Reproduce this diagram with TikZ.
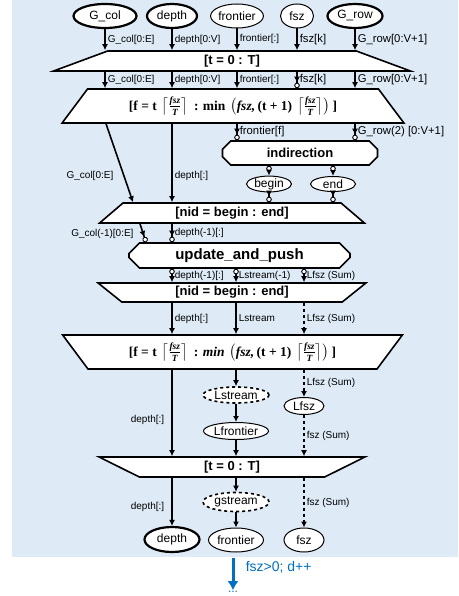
\documentclass[tikz,border=0pt]{standalone}
\usepackage{amsmath}
\usepackage[no-math]{fontspec}
\setmainfont{Liberation Sans}
\newfontfamily\formfont{Liberation Serif}
\usetikzlibrary{positioning}
\usetikzlibrary{calc}
\usetikzlibrary{shapes.misc}
\usetikzlibrary{shapes.geometric}
\usetikzlibrary{arrows.meta}
\usepackage{color}
\definecolor{backblue}{RGB}{222,235,247}
\definecolor{nextblue}{RGB}{0,112,192}
\newcommand{\fbi}[1]{\text{\formfont\bfseries\itshape #1}}
\newcommand{\fbu}[1]{\text{\formfont\bfseries #1}}
\newcommand{\fszT}{\left\lceil\frac{\fbi{fsz}}{\fbi{T}}\right\rceil}
\newcommand{\tilerange}[1]{{\fontsize{13.5}{15}\selectfont$\fbu{[f = t}\,\fszT\fbu{ : #1\,}\left(\fbi{fsz,}\,\fbu{(t + 1)}\,\fszT\right)\fbu{]}$}}
\tikzset{
    common/.style={draw, fill=white, line width=1.6pt, inner sep=0pt},
    databox/.style={common, ellipse, line width=1pt, minimum height=24pt, font=\fontsize{12}{14}\selectfont},
    bigdatabox/.style={databox, line width=2.2pt},
    streambox/.style={databox, dashed, line width=1.6pt},
    loopbox/.style={common, trapezium, trapezium left angle=45, trapezium right angle=45,
        trapezium stretches=true, minimum height=20pt, font=\fontsize{13}{15}\selectfont\bfseries},
    endloopbox/.style={loopbox, shape border rotate=180},
    kernelbox/.style={common, chamfered rectangle, chamfered rectangle xsep=7pt, font=\fontsize{13}{15}\selectfont\bfseries},
    flow/.style={-{Latex[length=6pt,width=6pt]}, line width=1.6pt},
    inport/.style={-{Latex[length=6pt,width=6pt] Circle[fill=white, length=5.5pt, line width=0.9pt]}, line width=1.6pt},
    outport/.style={{Circle[fill=white, length=5.5pt, line width=0.9pt]}-{Latex[length=6pt,width=6pt]}, line width=1.6pt},
    info/.style={font=\fontsize{10}{12}\selectfont, inner sep=2pt},
    rowinfo/.style={info, font=\fontsize{11.3}{13}\selectfont},
}

\begin{document}
\begin{tikzpicture}[x=1pt, y=-1pt]
    \useasboundingbox (0,0) rectangle (458,596);
    \fill[backblue] (12,0) rectangle (458,557);

    % inputs
    \node[bigdatabox, minimum width=63pt] (G-col-in) at (105,16) {G\_col};
    \node[bigdatabox, minimum width=50pt] (depth-in) at (172,16) {depth};
    \node[databox, minimum width=48pt] (frontier-in) at (237,16) {frontier};
    \node[databox, minimum width=33pt] (fsz-in) at (297,16) {fsz};
    \node[bigdatabox, minimum width=55pt] (G-row-in) at (355,16) {G\_row};

    % loops and kernels
    \node[loopbox, minimum width=357pt] (t-loop-A) at (232,61) {[t = 0 : T]};
    \node[loopbox, minimum width=342pt, minimum height=34pt] (f-loop-A) at (233,106) {\tilerange{min}};
    \node[kernelbox, minimum width=155pt, minimum height=24pt] (indirection) at (300,153) {indirection};
    \node[databox, minimum width=45pt, minimum height=15pt] (begin) at (269,184) {begin};
    \node[databox, minimum width=45pt, minimum height=15pt] (end) at (333,184) {end};
    \node[loopbox, minimum width=265pt] (nid-loop-A) at (232,213) {[nid = begin : end]};
    \node[kernelbox, minimum width=221pt, minimum height=25pt, font=\fontsize{15}{17}\selectfont\bfseries] (update) at (239.5,255.5) {update\_and\_push};
    \node[endloopbox, minimum width=268pt, minimum height=19pt] (nid-loop-B) at (232,292.5) {[nid = begin : end]};
    \node[endloopbox, minimum width=341pt, minimum height=34pt] (f-loop-B) at (232.5,352) {\tilerange{\itshape min}};
    \node[streambox, minimum width=66pt, minimum height=16pt] (Lstream) at (236,395) {Lstream};
    \node[databox, minimum width=65pt, minimum height=17pt] (Lfrontier) at (236,431) {Lfrontier};
    \node[databox, minimum width=40pt, minimum height=17pt] (Lfsz) at (304,406) {Lfsz};
    \node[endloopbox, minimum width=266pt] (t-loop-B) at (232,467) {[t = 0 : T]};
    \node[streambox, minimum width=66pt, minimum height=19pt] (gstream) at (236,502) {gstream};

    % outputs
    \node[bigdatabox, minimum width=55pt, minimum height=25pt] (depth-out) at (172,539.5) {depth};
    \node[databox, minimum width=55pt] (frontier-out) at (236,540) {frontier};
    \node[databox, minimum width=40pt] (fsz-out) at (304,540) {fsz};

    \draw[flow] (G-col-in) -- (G-col-in |- t-loop-A.north) node[info, midway, right] {G\_col[0:E]};
    \draw[flow] (depth-in) -- (depth-in |- t-loop-A.north) node[info, midway, right] {depth[0:V]};
    \draw[flow] (frontier-in) -- (frontier-in |- t-loop-A.north) node[info, midway, right] {frontier[:]};
    \draw[flow] (fsz-in) -- (fsz-in |- t-loop-A.north) node[rowinfo, midway, right] {fsz[k]};
    \draw[flow] (G-row-in) -- (G-row-in |- t-loop-A.north) node[rowinfo, midway, right] {G\_row[0:V+1]};

    \draw[flow] (G-col-in |- t-loop-A.south) -- (G-col-in |- f-loop-A.north) node[info, midway, right] {G\_col[0:E]};
    \draw[flow] (depth-in |- t-loop-A.south) -- (depth-in |- f-loop-A.north) node[info, midway, right] {depth[0:V]};
    \draw[flow] (frontier-in |- t-loop-A.south) -- (frontier-in |- f-loop-A.north) node[info, midway, right] {frontier[:]};
    \draw[inport] (fsz-in |- t-loop-A.south) -- (fsz-in |- f-loop-A.north) node[rowinfo, midway, right] {fsz[k]};
    \draw[flow] (G-row-in |- t-loop-A.south) -- (G-row-in |- f-loop-A.north) node[rowinfo, midway, right] {G\_row[0:V+1]};

    \draw[flow] ([xshift=-127pt]f-loop-A.south) -- ([xshift=-99pt]nid-loop-A.north) node[info, pos=0.67, left=8pt] {G\_col[0:E]};
    \draw[flow] (depth-in |- f-loop-A.south) -- (depth-in |- nid-loop-A.north) node[info, pos=0.67, right] {depth[:]};
    \draw[inport] (frontier-in |- f-loop-A.south) -- (frontier-in |- indirection.north) node[rowinfo, midway, right] {frontier[f]};
    \draw[inport] (G-row-in |- f-loop-A.south) -- (G-row-in |- indirection.north) node[rowinfo, midway, right] {G\_row(2) [0:V+1]};
    \draw[outport] (begin |- indirection.south) -- (begin);
    \draw[outport] (end |- indirection.south) -- (end);
    \draw[inport] (begin) -- (begin |- nid-loop-A.north);
    \draw[inport] (end) -- (end |- nid-loop-A.north);

    \draw[inport] ([xshift=-92pt]nid-loop-A.south) -- ([xshift=-93.5pt]update.north) node[info, pos=0.55, left=7pt] {G\_col(-1)[0:E]};
    \draw[inport] (depth-in |- nid-loop-A.south) -- (depth-in |- update.north) node[info, midway, right] {depth(-1)[:]};

    \draw[outport] (depth-in |- update.south) -- (depth-in |- nid-loop-B.north) node[info, midway, right] {depth(-1)[:]};
    \draw[outport] (Lstream |- update.south) -- (Lstream |- nid-loop-B.north) node[info, midway, right] {Lstream(-1)};
    \draw[outport, dashed] (Lfsz |- update.south) -- (Lfsz |- nid-loop-B.north) node[info, midway, right] {Lfsz (Sum)};

    \draw[flow] (depth-in |- nid-loop-B.south) -- (depth-in |- f-loop-B.north) node[info, midway, right] {depth[:]};
    \draw[flow] (Lstream |- nid-loop-B.south) -- (Lstream |- f-loop-B.north) node[info, midway, right] {Lstream};
    \draw[flow, dashed] (Lfsz |- nid-loop-B.south) -- (Lfsz |- f-loop-B.north) node[info, midway, right] {Lfsz (Sum)};

    \draw[flow] (depth-in |- f-loop-B.south) -- (depth-in |- t-loop-B.north) node[info, pos=0.58, left=5pt] {depth[:]};
    \draw[flow] (Lstream |- f-loop-B.south) -- (Lstream);
    \draw[flow] (Lstream) -- (Lfrontier);
    \draw[flow] (Lfrontier) -- (Lfrontier |- t-loop-B.north);
    \draw[flow, dashed] (Lfsz |- f-loop-B.south) -- (Lfsz) node[info, midway, right] {Lfsz (Sum)};
    \draw[flow, dashed] (Lfsz) -- (Lfsz |- t-loop-B.north) node[info, midway, right] {fsz (Sum)};

    \draw[flow] (depth-out |- t-loop-B.south) -- (depth-out) node[info, pos=0.6, left=5pt] {depth[:]};
    \draw[flow] (gstream |- t-loop-B.south) -- (gstream);
    \draw[flow] (gstream) -- (frontier-out);
    \draw[flow, dashed] (fsz-out |- t-loop-B.south) -- (fsz-out) node[info, midway, right] {fsz (Sum)};

    % next depth
    \coordinate (next-top) at (233,558);
    \node[text=nextblue, font=\fontsize{12}{14}\selectfont, inner sep=1pt] (more) at (233,592) {...};
    \draw[-{Latex[length=9pt,width=11pt]}, nextblue, line width=3pt] (next-top) -- (more.north)
        node[pos=0.3, right=8pt, font=\fontsize{14}{16}\selectfont] {fsz>0; d++};
\end{tikzpicture}
\end{document}
